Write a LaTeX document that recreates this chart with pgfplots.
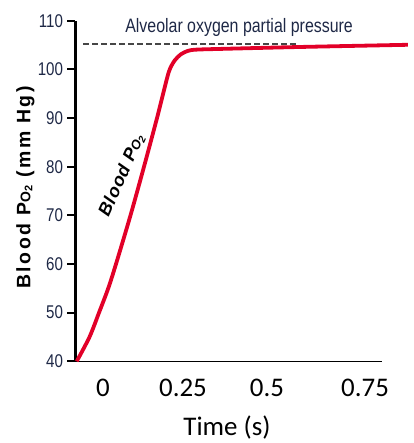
\documentclass[border=0pt]{standalone}
\usepackage{fontspec}
\setmainfont{Liberation Sans}
\newfontfamily\narrow[FakeStretch=0.82]{Liberation Sans}
\newfontfamily\calibri{Carlito}
\usepackage{pgfplots}
\pgfplotsset{compat=1.18}
\definecolor{curvered}{RGB}{226,0,40}
\definecolor{navy}{RGB}{30,40,70}
\definecolor{dashgray}{RGB}{70,70,70}

\begin{document}
\begin{tikzpicture}
\path[use as bounding box] (0,0) rectangle (414bp,443bp);
\begin{axis}[
    at={(75.5bp,81.7bp)}, anchor=south west,
    scale only axis,
    width=306.5bp, height=340.6bp,
    xmin=-0.086, xmax=0.872,
    ymin=40, ymax=110,
    clip=false,
    axis lines=left,
    axis line style={-},
    x axis line style={line width=1.5bp},
    y axis line style={line width=2bp},
    xtick={0,0.25,0.5125,0.819},
    xticklabels={0,0.25,0.5,0.75},
    xtick style={draw=none},
    ytick={40,50,...,110},
    ytick style={line width=2bp, black},
    tick align=outside,
    major tick length=8bp,
    /pgf/number format/assume math mode=true,
    yticklabel style={font=\narrow\fontsize{18.5}{18.5}\selectfont, text=navy, xshift=-1bp},
    xticklabel style={font=\calibri\fontsize{27}{27}\selectfont, anchor=base, yshift=-27bp},
]
% dashed alveolar level
\addplot[dashgray, line width=1.3bp, dash pattern=on 6bp off 3bp] coordinates {(-0.0625,105.2) (0.606,105.2)};
% blood PO2 curve
\addplot[curvered, line width=3.8bp, smooth, tension=0.5] coordinates {
    (-0.0822,40) (-0.0422,45) (-0.0125,50) (0.0163,55) (0.0406,60) (0.0859,70) (0.1281,80)
    (0.1688,90) (0.1994,98) (0.2096,100.16) (0.2243,101.85) (0.2426,103.06)
    (0.2648,103.79) (0.2906,104.05) (0.3656,104.2) (0.6156,104.6) (0.9531,105.05)
};
\node[anchor=base west, text=navy, font=\narrow\fontsize{19.5}{19.5}\selectfont, inner sep=0pt]
    at (axis cs:0.069,107.5) {Alveolar oxygen partial pressure};
\node[rotate=66, font=\bfseries\itshape\fontsize{18}{18}\selectfont\addfontfeature{LetterSpace=5}, inner sep=0pt]
    at (axis cs:0.058,78.2) {Blood P{\fontsize{13}{13}\selectfont O}\raisebox{-2bp}{\fontsize{10}{10}\selectfont 2}};
\end{axis}
\node[rotate=90, font=\bfseries\fontsize{19.5}{19.5}\selectfont\addfontfeature{LetterSpace=13}, inner sep=0pt]
    at (25.5bp,255.5bp) {Blood P{\fontsize{14}{14}\selectfont O}\raisebox{-2bp}{\fontsize{11}{11}\selectfont 2} (mm Hg)};
\node[anchor=base, font=\calibri\fontsize{27}{27}\selectfont, inner sep=0pt]
    at (227bp,8bp) {Time (s)};
\end{tikzpicture}
\end{document}
